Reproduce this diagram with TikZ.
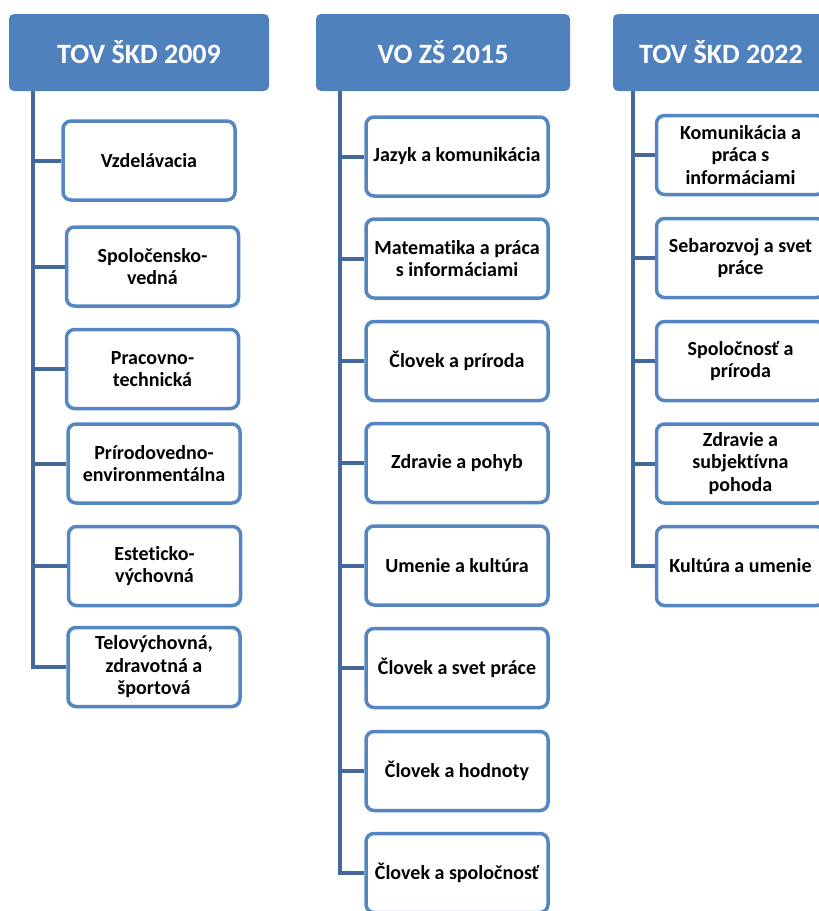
\documentclass[tikz,border=0pt]{standalone}
\usepackage{fontspec}
\setmainfont{Carlito}[Ligatures=NoCommon]
\usetikzlibrary{backgrounds}
\definecolor{hdrblue}{RGB}{79,129,189}
\definecolor{boxblue}{RGB}{84,134,194}
\definecolor{linkblue}{RGB}{66,104,156}
\tikzset{
  hdr/.style={draw=none, fill=hdrblue, rounded corners=5pt, minimum height=77pt,
    text=white, font=\fontsize{28}{34}\selectfont\bfseries, inner sep=0pt},
  itembox/.style={draw=boxblue, line width=3.5pt, fill=white, rounded corners=8pt,
    minimum height=79pt, align=center, inner sep=2pt,
    font=\fontsize{20}{22.5}\selectfont\bfseries, text=black},
  link/.style={draw=linkblue, line width=4pt},
}
\begin{document}
\begin{tikzpicture}[x=1pt,y=-1pt]
\useasboundingbox (0,0) rectangle (819,911);
\clip (0,0) rectangle (819,911);
% headers
\node[hdr, minimum width=260pt] (h1) at (139,52.5) {TOV ŠKD 2009};
\node[hdr, minimum width=254pt] (h2) at (443,52.5) {VO ZŠ 2015};
\node[hdr, minimum width=216pt] (h3) at (721,52.5) {TOV ŠKD 2022};
% column 1
\begin{scope}[itembox/.append style={minimum width=172pt}]
\node[itembox] (a1) at (149,160.5) {Vzdelávacia};
\node[itembox] (a2) at (152.5,266.5) {Spoločensko-\\vedná};
\node[itembox] (a3) at (152.5,369) {Pracovno-\\technická};
\node[itembox] (a4) at (154,463.5) {Prírodovedno-\\environmentálna};
\node[itembox] (a5) at (154.5,566) {Esteticko-\\výchovná};
\node[itembox] (a6) at (154,667) {Telovýchovná,\\zdravotná a\\športová};
\end{scope}
% column 2
\begin{scope}[itembox/.append style={minimum width=182pt}]
\node[itembox] (b1) at (457,156.5) {Jazyk a komunikácia};
\node[itembox] (b2) at (457,258.5) {Matematika a práca\\s informáciami};
\node[itembox] (b3) at (457,361) {Človek a príroda};
\node[itembox] (b4) at (457,463) {Zdravie a pohyb};
\node[itembox] (b5) at (457,565.5) {Umenie a kultúra};
\node[itembox] (b6) at (457,668) {Človek a svet práce};
\node[itembox] (b7) at (457,771) {Človek a hodnoty};
\node[itembox] (b8) at (457,873) {Človek a spoločnosť};
\end{scope}
% column 3
\begin{scope}[itembox/.append style={minimum width=168pt}]
\node[itembox] (c1) at (740.5,155) {Komunikácia a\\práca s\\informáciami};
\node[itembox] (c2) at (740.5,258) {Sebarozvoj a svet\\práce};
\node[itembox] (c3) at (740.5,361) {Spoločnosť a\\príroda};
\node[itembox] (c4) at (740.5,463.5) {Zdravie a\\subjektívna\\pohoda};
\node[itembox] (c5) at (740.5,566) {Kultúra a umenie};
\end{scope}
% trunk tops
\coordinate (t1) at (33,91);
\coordinate (t2) at (340,91);
\coordinate (t3) at (633,91);
% connectors
\begin{scope}[on background layer]
\draw[link, line join=miter] (t1) |- (a6.west);
\foreach \n in {a1,a2,a3,a4,a5} \draw[link] (t1 |- \n.west) -- (\n.west);
\draw[link, line join=miter] (t2) |- (b8.west);
\foreach \n in {b1,b2,b3,b4,b5,b6,b7} \draw[link] (t2 |- \n.west) -- (\n.west);
\draw[link, line join=miter] (t3) |- (c5.west);
\foreach \n in {c1,c2,c3,c4} \draw[link] (t3 |- \n.west) -- (\n.west);
\end{scope}
\end{tikzpicture}
\end{document}
